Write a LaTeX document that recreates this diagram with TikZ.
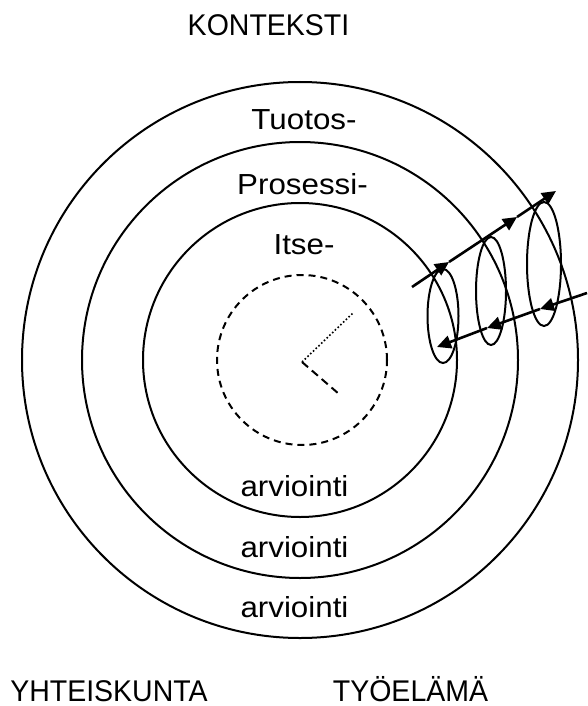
\documentclass[tikz,border=0pt]{standalone}
\usepackage{fontspec}
\setmainfont{Liberation Sans}
\usetikzlibrary{arrows.meta}
\newcommand{\widetxt}[1]{\scalebox{1.08}[1]{#1}}
\newcommand{\talltxt}[1]{\scalebox{1}[1.05]{#1}}
\begin{document}
\begin{tikzpicture}[x=1pt,y=-1pt,
  ring/.style={draw=black,line width=2pt},
  loopell/.style={draw=black,line width=2pt},
  flow/.style={draw=black,line width=2.6pt,-{Triangle[length=14pt,width=13pt]}},
  caps/.style={inner sep=0pt,anchor=base,font=\fontsize{28.5}{34}\selectfont},
  lbl/.style={inner sep=0pt,anchor=base,font=\fontsize{29}{35}\selectfont}]
\useasboundingbox (0,0) rectangle (587,706);
% rings
\coordinate (c) at (300,360);
\draw[ring] (c) circle[radius=278pt];
\draw[ring] (c) circle[radius=218pt];
\draw[ring] (c) circle[radius=157pt];
\coordinate (d) at (302,360);
\draw[ring,dash pattern=on 7pt off 5pt] (d) circle[radius=85pt];
% hands
\coordinate (h0) at (302,362);
\coordinate (h1) at (339,394);
\coordinate (h2) at (354,312);
\draw[line width=2pt,dash pattern=on 8pt off 5pt] (h0) -- (h1);
\draw[line width=1.6pt,dash pattern=on 1.6pt off 2.2pt] (h0) -- (h2);
% loops
\draw[loopell] (443,316) ellipse[x radius=15.5pt,y radius=47pt];
\draw[loopell] (491,291) ellipse[x radius=15pt,y radius=54pt];
\draw[loopell] (544,264) ellipse[x radius=17pt,y radius=62pt];
% top flow
\coordinate (t0) at (412,287);
\coordinate (t1) at (449,262);
\coordinate (t2) at (517,217);
\coordinate (t3) at (556,191);
\draw[flow] (t0) -- (t1);
\draw[flow] (t1) -- (t2);
\draw[flow] (t2) -- (t3);
% bottom flow
\coordinate (b0) at (587,293);
\coordinate (b1) at (540,309);
\coordinate (b2) at (487,328);
\coordinate (b3) at (437,347);
\draw[flow] (b0) -- (b1);
\draw[flow] (b1) -- (b2);
\draw[flow] (b2) -- (b3);
% texts
\node[caps] (kon) at (268.5,36) {\talltxt{KONTEKSTI}};
\node[lbl] (tuo) at (304,129.5) {\widetxt{Tuotos-}};
\node[lbl] (pro) at (302.5,194) {\widetxt{Prosessi-}};
\node[lbl] (its) at (304,254) {\widetxt{Itse-}};
\node[lbl] (a1) at (294.5,496) {\widetxt{arviointi}};
\node[lbl] (a2) at (294.5,557) {\widetxt{arviointi}};
\node[lbl] (a3) at (294.5,617) {\widetxt{arviointi}};
\node[caps] (yht) at (109,701) {\talltxt{YHTEISKUNTA}};
\node[caps] (tyo) at (410.5,701) {\talltxt{TYÖELÄMÄ}};
\end{tikzpicture}
\end{document}
